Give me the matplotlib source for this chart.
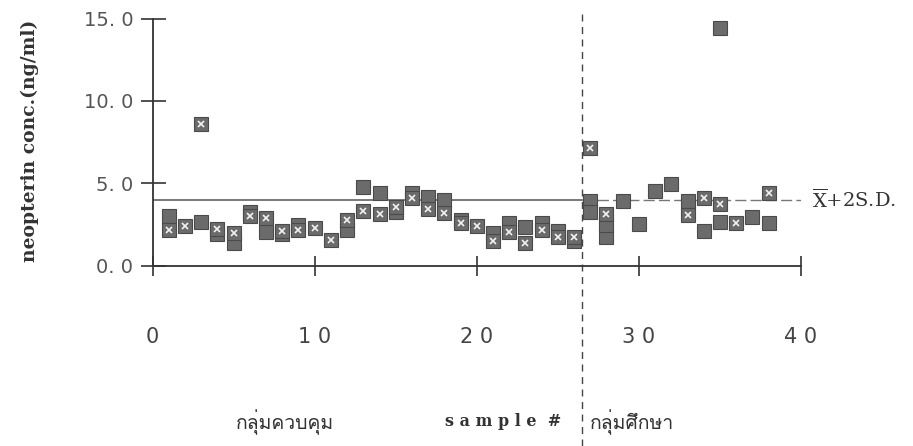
import numpy as np
import matplotlib
matplotlib.use("Agg")
import matplotlib.pyplot as plt
from matplotlib import font_manager
from matplotlib.ft2font import FT2Font

# neopterin conc. per sample, control group 1-26, study group 27-38
nan = np.nan
sample_no = np.arange(1, 39)
conc_dotted = [2.15, 2.4, 8.6, 2.2, 2.0, 3.0, 2.9, 2.1, 2.15, 2.26,
               1.53, 2.78, 3.33, 3.1, 3.55, 4.1, 3.46, 3.2, 2.6, 2.38,
               1.5, 2.03, 1.39, 2.16, 1.73, 1.75,
               7.16, 3.15, nan, nan, nan, nan, 3.07, 4.1, 3.73, 2.56, nan, 4.38]
conc_plain = [3.0, nan, 2.65, 1.9, 1.35, 3.25, 2.05, 1.9, 2.45, nan,
              nan, 2.14, 4.79, 4.42, 3.25, 4.43, 4.16, 3.95, 2.75, nan,
              2.0, 2.61, 2.36, 2.61, 2.12, 1.5,
              3.89, 1.75, 3.9, 2.49, 4.5, 4.95, 3.89, 2.07, 2.66, nan, 2.92, 2.56]
extra_no = [27, 28, 35]
extra_conc = [3.26, 2.45, 14.45]

cutoff = 4.0          # mean + 2 S.D.
group_split = 26.5
xtick_pos = [0, 10, 20, 30, 40]
xtick_text = ["0", "1 0", "2 0", "3 0", "4 0"]
ytick_pos = [0, 5, 10, 15]
ytick_text = ["0. 0", "5. 0", "10. 0", "15. 0"]


def thai_family():
    # pick any installed font that has Thai glyphs
    for f in font_manager.fontManager.ttflist:
        try:
            if 0x0E01 in FT2Font(f.fname).get_charmap():
                return f.name
        except Exception:
            pass
    return "DejaVu Sans"


thai = [thai_family(), "DejaVu Sans"]
plt.rcParams["mathtext.fontset"] = "dejavuserif"

fig = plt.figure(figsize=(9.13, 4.46), dpi=100)
ax = fig.add_axes([152.6 / 913, 180.5 / 446, 648.4 / 913, 247 / 446])
ax.set_xlim(0, 40)
ax.set_ylim(0, 15)

face = "#6b6b6b"
edge = "#4a4a4a"
ax.plot(sample_no, conc_plain, "s", ms=9.8, mfc=face, mec=edge, mew=0.8, zorder=3)
ax.plot(extra_no, extra_conc, "s", ms=9.8, mfc=face, mec=edge, mew=0.8, zorder=3)
ax.plot(sample_no, conc_dotted, "s", ms=9.8, mfc=face, mec=edge, mew=0.8, zorder=4)
ax.plot(sample_no, conc_dotted, "x", ms=4, mec="#f2f2f2", mew=1.2, zorder=5)

# mean + 2SD line, solid over controls, broken over study group
ax.plot([0, group_split], [cutoff, cutoff], color="#555555", lw=1.1, zorder=2)
ax.plot([group_split, 40], [cutoff, cutoff], color="#777777", lw=1.0,
        dashes=(8, 3), zorder=2)
ax.text(40.7, cutoff, r"$\overline{\mathrm{X}}$+2S.D.", va="center", ha="left",
        fontsize=14, family="DejaVu Serif", color="#333333")

ax.axvline(group_split, ymin=-0.73, ymax=1.035, clip_on=False,
           color="#444444", lw=1.0, dashes=(5, 4))

for s in ["top", "right"]:
    ax.spines[s].set_visible(False)
for s in ["left", "bottom"]:
    ax.spines[s].set_color("#333333")
    ax.spines[s].set_linewidth(1.3)

ax.set_xticks(xtick_pos)
ax.set_xticklabels(xtick_text, family=["Liberation Sans Narrow", "DejaVu Sans"],
                   fontsize=15, color="#444444")
ax.set_yticks(ytick_pos)
ax.set_yticklabels(ytick_text, family="DejaVu Sans", fontsize=14, color="#555555")
ax.tick_params(axis="x", direction="inout", length=15, width=1.2,
               color="#333333", pad=37)
ax.tick_params(axis="y", direction="inout", length=18, width=1.2,
               color="#333333", pad=5)

fig.text(30 / 913, 1 - 141 / 446, "neopterin conc.(ng/ml)", rotation=90,
         ha="center", va="center", fontsize=13.5, fontweight="bold",
         family="DejaVu Serif", color="#333333")

fig.text(285 / 913, 1 - 422 / 446, "กลุ่มควบคุม", ha="center", va="center",
         fontsize=14, family=thai, color="#333333")
fig.text(503 / 913, 1 - 422 / 446, "s a m p l e  #", ha="center", va="center",
         fontsize=11.5, fontweight="bold", family="DejaVu Serif", color="#333333")
fig.text(632 / 913, 1 - 422 / 446, "กลุ่มศึกษา", ha="center", va="center",
         fontsize=14, family=thai, color="#333333")

fig.savefig("out.png", dpi=100)
